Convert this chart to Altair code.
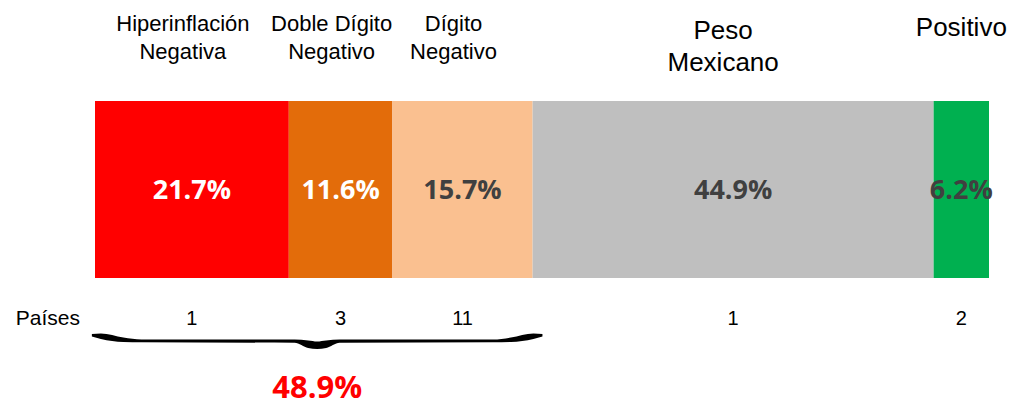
import altair as alt
import pandas as pd

# ---- data ----
categorias = ["Hiperinflación Negativa", "Doble Dígito Negativo", "Dígito Negativo",
              "Peso Mexicano", "Positivo"]
etiquetas = ["Hiperinflación\nNegativa", "Doble Dígito\nNegativo", "Dígito\nNegativo",
             "Peso\nMexicano", "Positivo"]
porcentajes = [21.7, 11.6, 15.7, 44.9, 6.2]
paises = [1, 3, 11, 1, 2]
colores = ["#FF0000", "#E36C0A", "#FAC090", "#BFBFBF", "#00B050"]
colores_texto = ["#FFFFFF", "#FFFFFF", "#404040", "#404040", "#404040"]
total_negativo = "48.9%"
etiqueta_fila = "Países"

# ---- build table ----
inicio, fin = [], []
acc = 0.0
for p in porcentajes:
    inicio.append(acc)
    acc += p
    fin.append(acc)
total = acc

df = pd.DataFrame({
    "idx": list(range(len(categorias))),
    "categoria": categorias,
    "etiqueta": etiquetas,
    "pct": porcentajes,
    "pct_txt": [f"{p:.1f}%" for p in porcentajes],
    "paises": [str(n) for n in paises],
    "inicio": inicio,
    "fin": fin,
    "medio": [(a + b) / 2 for a, b in zip(inicio, fin)],
    "color_texto": colores_texto,
})

W, H = 894, 407
xs = alt.Scale(domain=[0, total], nice=False, zero=False)

base = alt.Chart(df)

barras = base.mark_bar(stroke=None).encode(
    x=alt.X("inicio:Q", scale=xs, axis=None),
    x2="fin:Q",
    y=alt.value(101),
    y2=alt.value(278),
    color=alt.Color("categoria:N", scale=alt.Scale(domain=categorias, range=colores), legend=None),
)

valores = base.mark_text(font="Open Sans", fontWeight="bold", fontSize=27,
                         baseline="middle", align="center").encode(
    x=alt.X("medio:Q", scale=xs),
    y=alt.value(191),
    text="pct_txt:N",
    color=alt.Color("color_texto:N", scale=None),
)

txt_cfg = dict(font="Liberation Sans", align="center", baseline="top",
               lineBreak="\n", color="#000000")

etq_peq = base.transform_filter("datum.idx <= 2").mark_text(
    fontSize=22, lineHeight=28, dx=-9, **txt_cfg).encode(
    x=alt.X("medio:Q", scale=xs), y=alt.value(14), text="etiqueta:N")

etq_peso = base.transform_filter("datum.idx == 3").mark_text(
    fontSize=26, lineHeight=32, dx=-10, **txt_cfg).encode(
    x=alt.X("medio:Q", scale=xs), y=alt.value(18), text="etiqueta:N")

etq_pos = base.transform_filter("datum.idx == 4").mark_text(
    fontSize=26, lineHeight=32, **txt_cfg).encode(
    x=alt.X("medio:Q", scale=xs), y=alt.value(15), text="etiqueta:N")

conteos = base.mark_text(font="Liberation Sans", fontSize=20, align="center",
                         baseline="alphabetic", color="#000000").encode(
    x=alt.X("medio:Q", scale=xs), y=alt.value(325), text="paises:N")

fila = alt.Chart(pd.DataFrame({"t": [etiqueta_fila]})).mark_text(
    font="Liberation Sans", fontSize=21, align="right", baseline="alphabetic",
    color="#000000").encode(x=alt.value(-15), y=alt.value(325), text="t:N")

# ---- brace spanning the three negative groups (tapered filled shape) ----
b0 = inicio[0] - 0.35
b1 = fin[2] + 1.1
bw = b1 - b0
# shape profile: fraction along the brace, upper and lower edge (px)
perfil_f = [0.0, 0.02, 0.07, 0.11, 0.45, 0.48, 0.5]
perfil_sup = [334, 333.5, 337.5, 339.5, 339.5, 340.5, 341.5]
perfil_inf = [336.5, 339, 342, 342.3, 342.8, 348, 349]
fx, fs, fi = [], [], []
for f, s, i in zip(perfil_f, perfil_sup, perfil_inf):
    fx.append(f); fs.append(s); fi.append(i)
for f, s, i in zip(reversed(perfil_f[:-1]), reversed(perfil_sup[:-1]), reversed(perfil_inf[:-1])):
    fx.append(1 - f); fs.append(s); fi.append(i)
llave = pd.DataFrame({"x": [b0 + f * bw for f in fx], "y": fs, "y2": fi})

ys = alt.Scale(domain=[0, H], range=[0, H], nice=False, zero=False)
brace = alt.Chart(llave).mark_area(color="#000000", interpolate="monotone").encode(
    x=alt.X("x:Q", scale=xs),
    y=alt.Y("y:Q", scale=ys, axis=None),
    y2="y2:Q",
)

tot = alt.Chart(pd.DataFrame({"t": [total_negativo], "x": [(b0 + b1) / 2]})).mark_text(
    font="Open Sans", fontWeight="bold", fontSize=31, color="#FF0000",
    align="center", baseline="alphabetic").encode(
    x=alt.X("x:Q", scale=xs), y=alt.value(398), text="t:N")

chart = alt.layer(barras, valores, etq_peq, etq_peso, etq_pos, conteos, fila, brace, tot).properties(
    width=W, height=H,
    padding={"left": 95, "top": 0, "right": 1026 - 95 - W, "bottom": 0},
    autosize=alt.AutoSizeParams(type="none"),
    background="#FFFFFF",
).configure_view(stroke=None)

chart.save("out.html", embed_options={"renderer": "svg", "actions": False})
